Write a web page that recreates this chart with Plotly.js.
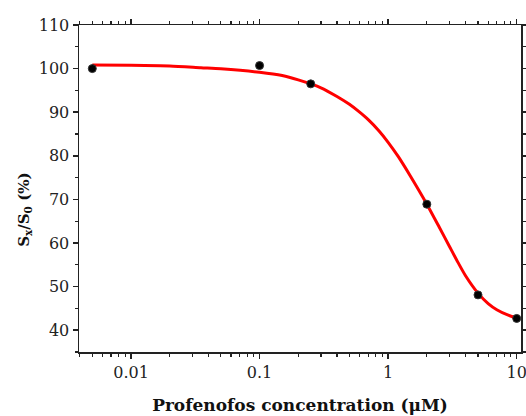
<!DOCTYPE html>
<html>
<head>
<meta charset="utf-8">
<script src="https://cdn.plot.ly/plotly-3.0.1.min.js"></script>
<style>html,body{margin:0;padding:0;background:#fff;}#chart{width:526px;height:416px;}</style>
</head>
<body>
<div id="chart"></div>
<script>
// Measured data points
const concentration = [0.005, 0.1, 0.25, 2, 5, 10];
const signalRatio = [100.0, 100.7, 96.5, 68.9, 48.1, 42.7];

// Fitted curve
const fitConcentration = [0.005, 0.01, 0.02, 0.035, 0.05, 0.1, 0.15, 0.2, 0.3, 0.4, 0.5, 0.6, 0.7, 0.85, 1, 1.2, 1.5, 2, 2.5, 3, 3.5, 4, 5, 6, 7, 8.5, 10];
const fitRatio = [100.8, 100.75, 100.6, 100.2, 99.95, 99.15, 98.4, 97.4, 95.6, 93.6, 91.8, 90.0, 88.3, 85.7, 83.1, 79.8, 75.2, 68.9, 63.6, 59.2, 55.5, 52.5, 48.5, 46.1, 44.7, 43.5, 42.8];

const xTickVals = [0.01, 0.1, 1, 10];
const xTickText = ['0.01', '0.1', '1', '10'];
const yTickVals = [40, 50, 60, 70, 80, 90, 100, 110];

const tickFont = {family: 'DejaVu Serif, serif', size: 16, color: '#222'};

const traces = [
  {
    x: fitConcentration, y: fitRatio, type: 'scatter', mode: 'lines',
    line: {color: '#ff0000', width: 3, shape: 'spline', smoothing: 0.7},
    hoverinfo: 'skip', showlegend: false
  },
  {
    x: concentration, y: signalRatio, type: 'scatter', mode: 'markers',
    marker: {color: '#000', size: 8, line: {color: '#333', width: 1}},
    showlegend: false
  }
];

const layout = {
  width: 526, height: 416,
  margin: {l: 79, r: 5, t: 25, b: 64},
  paper_bgcolor: '#fff', plot_bgcolor: '#fff',
  showlegend: false,
  xaxis: {
    type: 'log',
    range: [Math.log10(0.00394), Math.log10(10.8)],
    tickvals: xTickVals, ticktext: xTickText,
    ticks: 'outside', ticklen: 5, tickwidth: 1.5, tickcolor: '#222',
    minor: {ticks: 'outside', ticklen: 3, tickwidth: 1.2, tickcolor: '#222', dtick: 'D1', showgrid: false},
    showline: true, linecolor: '#222', linewidth: 1.5, mirror: 'allticks',
    showgrid: false, zeroline: false,
    ticklabeloverflow: 'allow',
    tickfont: tickFont,
    title: {text: 'Profenofos concentration (μM)', font: {family: 'DejaVu Serif, serif', size: 17, color: '#111', weight: 'bold'}, standoff: 18}
  },
  yaxis: {
    range: [35, 110],
    tickvals: yTickVals,
    ticks: 'outside', ticklen: 5, tickwidth: 1.5, tickcolor: '#222',
    minor: {ticks: 'outside', ticklen: 3, tickwidth: 1.2, tickcolor: '#222', dtick: 5, showgrid: false},
    showline: true, linecolor: '#222', linewidth: 1.5, mirror: 'allticks',
    showgrid: false, zeroline: false,
    tickfont: tickFont,
    title: {text: ''}
  },
  annotations: [
    {
      text: 'S<sub>x</sub>/S<sub>0</sub> (%)', xref: 'paper', yref: 'paper',
      x: -0.122, y: 0.435, xanchor: 'center', yanchor: 'middle', textangle: -90, showarrow: false,
      font: {family: 'DejaVu Serif, serif', size: 15, color: '#111', weight: 'bold'}
    }
  ]
};

Plotly.newPlot('chart', traces, layout, {displayModeBar: false, staticPlot: true});
</script>
</body>
</html>
